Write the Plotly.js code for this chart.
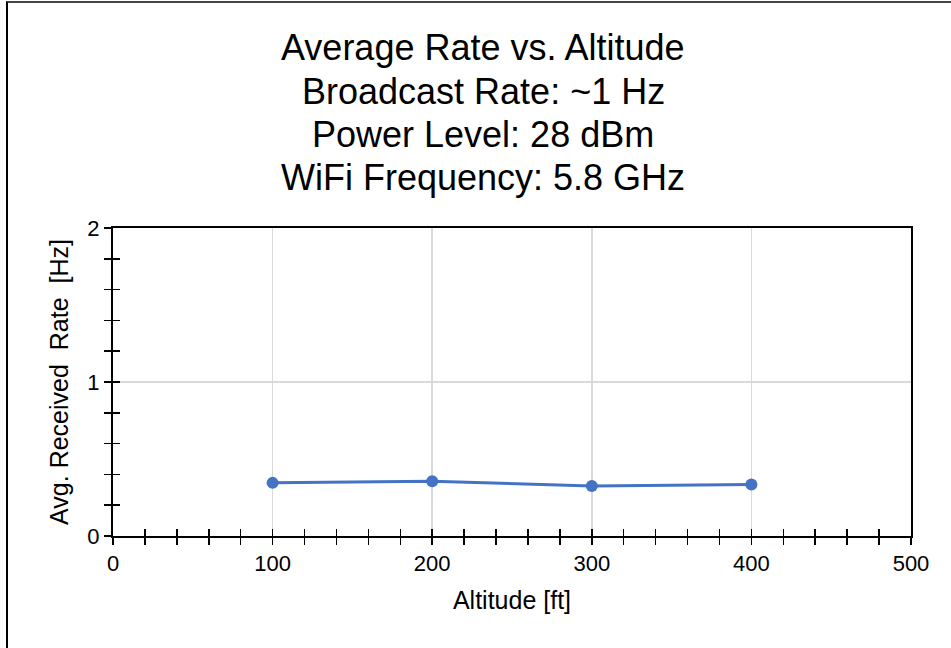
<!DOCTYPE html>
<html>
<head>
<meta charset="utf-8">
<script src="https://cdn.plot.ly/plotly-3.0.1.min.js"></script>
<style>
  html, body { margin: 0; padding: 0; background: #fff; }
  #wrap { position: relative; width: 951px; height: 648px; overflow: hidden; }
  #chart { width: 951px; height: 648px; }
  #frame { position: absolute; left: 6px; top: 1px; width: 960px; height: 700px;
           border-left: 2px solid #000; border-top: 2px solid #444; pointer-events: none; }
</style>
</head>
<body>
<div id="wrap">
  <div id="chart"></div>
  <div id="frame"></div>
</div>
<script>
// Data
var altitudeFt = [100, 200, 300, 400];
var avgRateHz  = [0.345, 0.355, 0.325, 0.335];

var titleLines = [
  "Average Rate vs. Altitude",
  "Broadcast Rate: ~1 Hz",
  "Power Level: 28 dBm",
  "WiFi Frequency: 5.8 GHz"
];
var xTitle = "Altitude [ft]";
var yTitle = "Avg. Received  Rate  [Hz]";
var xRange = [0, 500];
var yRange = [0, 2];

var FONT = "Liberation Sans, Arial, sans-serif";
var BLUE = "#4472C4";

// plot area geometry (pixels)
var M = { l: 113, r: 40, t: 228, b: 112 };
var H = 648, W = 951;
var plotH = H - M.t - M.b, plotW = W - M.l - M.r;
function paperY(py) { return (H - M.b - py) / plotH; }
function paperX(px) { return (px - M.l) / plotW; }

var titleCentersPx = [48, 91, 134, 177];
var annotations = titleLines.map(function (t, i) {
  return {
    text: t, showarrow: false,
    xref: "paper", yref: "paper",
    x: paperX(483), y: paperY(titleCentersPx[i]),
    xanchor: "center", yanchor: "middle",
    font: { family: FONT, size: 36, color: "#000" }
  };
});

var traces = [
  {
    x: altitudeFt, y: avgRateHz,
    type: "scatter", mode: "lines+markers",
    line: { color: BLUE, width: 3 },
    marker: { color: BLUE, size: 12 },
    showlegend: false, hoverinfo: "x+y"
  },
  {
    // invisible companion trace to carry the inside half of the crossing ticks
    x: altitudeFt, y: avgRateHz,
    xaxis: "x2", yaxis: "y2",
    type: "scatter", mode: "markers",
    marker: { opacity: 0 },
    showlegend: false, hoverinfo: "skip"
  }
];

var layout = {
  width: W, height: H,
  paper_bgcolor: "#fff", plot_bgcolor: "#fff",
  margin: M,
  font: { family: FONT, color: "#000" },
  annotations: annotations,
  xaxis: {
    range: xRange, dtick: 100, tick0: 0,
    showline: true, linecolor: "#000", linewidth: 2, mirror: true,
    showgrid: true, gridcolor: "#D9D9D9", gridwidth: 1.5,
    zeroline: false,
    ticks: "outside", ticklen: 7, tickwidth: 1.5, tickcolor: "#000",
    minor: { dtick: 20, ticks: "outside", ticklen: 7, tickwidth: 1.5, tickcolor: "#000", showgrid: false },
    tickfont: { family: FONT, size: 22, color: "#000" },
    title: { text: xTitle, font: { family: FONT, size: 25, color: "#000" }, standoff: 16 },
    fixedrange: true
  },
  yaxis: {
    range: yRange, dtick: 1, tick0: 0,
    showline: true, linecolor: "#000", linewidth: 2, mirror: true,
    showgrid: true, gridcolor: "#D9D9D9", gridwidth: 1.5,
    zeroline: false,
    ticks: "outside", ticklen: 7, tickwidth: 1.5, tickcolor: "#000",
    minor: { dtick: 0.2, ticks: "outside", ticklen: 7, tickwidth: 1.5, tickcolor: "#000", showgrid: false },
    tickfont: { family: FONT, size: 22, color: "#000" },
    title: { text: yTitle, font: { family: FONT, size: 25, color: "#000" }, standoff: 12 },
    fixedrange: true
  },
  xaxis2: {
    overlaying: "x", anchor: "y2", side: "bottom",
    range: xRange, dtick: 100, tick0: 0,
    showline: false, showgrid: false, zeroline: false, showticklabels: false,
    ticks: "inside", ticklen: 7, tickwidth: 1.5, tickcolor: "#000",
    minor: { dtick: 20, ticks: "inside", ticklen: 7, tickwidth: 1.5, tickcolor: "#000", showgrid: false },
    fixedrange: true
  },
  yaxis2: {
    overlaying: "y", anchor: "x2", side: "left",
    range: yRange, dtick: 1, tick0: 0,
    showline: false, showgrid: false, zeroline: false, showticklabels: false,
    ticks: "inside", ticklen: 7, tickwidth: 1.5, tickcolor: "#000",
    minor: { dtick: 0.2, ticks: "inside", ticklen: 7, tickwidth: 1.5, tickcolor: "#000", showgrid: false },
    fixedrange: true
  },
  showlegend: false
};

Plotly.newPlot("chart", traces, layout, { displayModeBar: false, staticPlot: true });
</script>
</body>
</html>
